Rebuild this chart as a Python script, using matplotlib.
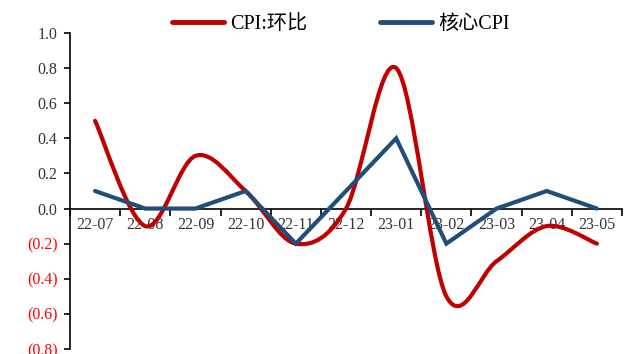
import matplotlib
matplotlib.use('Agg')
from matplotlib import pyplot as plt
from matplotlib.path import Path
from matplotlib.patches import PathPatch
from matplotlib.lines import Line2D
import numpy as np

# Data
months = ['22-07', '22-08', '22-09', '22-10', '22-11', '22-12',
          '23-01', '23-02', '23-03', '23-04', '23-05']
cpi_mom = [0.5, -0.1, 0.3, 0.1, -0.2, 0.0, 0.8, -0.5, -0.3, -0.1, -0.2]
core_cpi = [0.1, 0.0, 0.0, 0.1, -0.2, 0.1, 0.4, -0.2, 0.0, 0.1, 0.0]
y_ticks = [-0.8, -0.6, -0.4, -0.2, 0.0, 0.2, 0.4, 0.6, 0.8, 1.0]

RED = '#C00000'
BLUE = '#1F4E79'


def smooth_path(xs, ys):
    """Catmull-Rom style bezier path through the points (like Excel smoothed lines)"""
    pts = np.column_stack([xs, ys]).astype(float)
    n = len(pts)
    verts = [pts[0]]
    codes = [Path.MOVETO]
    for i in range(n - 1):
        p0 = pts[i - 1] if i > 0 else pts[i]
        p1 = pts[i]
        p2 = pts[i + 1]
        p3 = pts[i + 2] if i + 2 < n else pts[i + 1]
        c1 = p1 + (p2 - p0) / 6.0
        c2 = p2 - (p3 - p1) / 6.0
        verts += [c1, c2, p2]
        codes += [Path.CURVE4] * 3
    return Path(verts, codes)


def fmt(v):
    if v < 0:
        return f'({abs(v):.1f})'
    return f'{v:.1f}'


def main():
    plt.rcParams['font.family'] = ['Liberation Serif', 'Noto Sans CJK SC']

    fig = plt.figure(figsize=(6.24, 3.54), dpi=100)
    ax = fig.add_axes([70 / 624, 5 / 354, 552 / 624, 316 / 354])

    x = np.arange(len(months))
    patch = PathPatch(smooth_path(x, cpi_mom), facecolor='none', edgecolor=RED,
                      linewidth=3.0, capstyle='round', joinstyle='round', zorder=3)
    ax.add_patch(patch)
    ax.plot(x, core_cpi, color=BLUE, linewidth=3.0, solid_capstyle='round',
            solid_joinstyle='miter', zorder=4)

    ax.set_xlim(-0.5, len(months) - 0.5)
    ax.set_ylim(-0.8, 1.0)

    # spines
    for s in ['top', 'right']:
        ax.spines[s].set_visible(False)
    ax.spines['bottom'].set_position(('data', 0))
    ax.spines['left'].set_linewidth(1.2)
    ax.spines['bottom'].set_linewidth(1.2)

    # y ticks
    ax.set_yticks(y_ticks)
    ax.set_yticklabels([fmt(v) for v in y_ticks], fontsize=11.5)
    for lbl, v in zip(ax.get_yticklabels(), y_ticks):
        lbl.set_color('#FF0000' if v < 0 else '#333333')
    ax.tick_params(axis='y', direction='out', length=4, width=1.2, pad=5)

    # x ticks: marks between categories, labels at centers
    ax.set_xticks(np.arange(len(months) + 1) - 0.5)
    ax.set_xticklabels([])
    ax.tick_params(axis='x', which='major', direction='out', length=5, width=1.2)
    ax.set_xticks(x, minor=True)
    ax.set_xticklabels(months, minor=True, fontsize=11.5, color='#333333')
    ax.tick_params(axis='x', which='minor', length=0, pad=6)

    # legend
    handles = [Line2D([], [], color=RED, linewidth=3.5, solid_capstyle='round'),
               Line2D([], [], color=BLUE, linewidth=3.5, solid_capstyle='round')]
    fig.legend(handles, ['CPI:环比', '核心CPI'], loc='center', ncol=2,
               bbox_to_anchor=(341 / 624, 1 - 24 / 354), frameon=False,
               fontsize=14.5, handlelength=2.6, handletextpad=0.3, columnspacing=3.6)

    fig.savefig('out.png', dpi=100)


if __name__ == '__main__':
    main()
